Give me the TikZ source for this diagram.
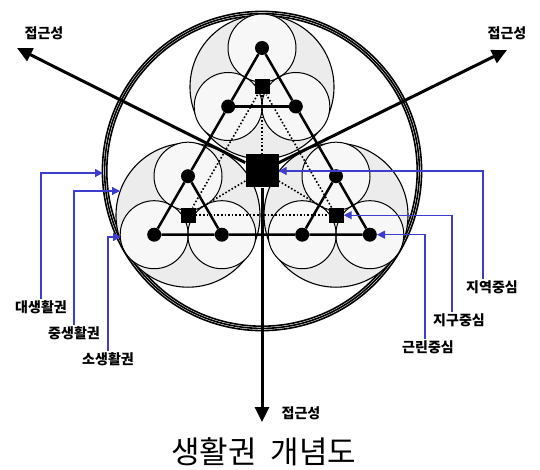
\documentclass[tikz,border=0pt]{standalone}
\usepackage{fontspec}
\newfontfamily\kr{Noto Sans CJK KR}
\usetikzlibrary{arrows.meta, calc}
\definecolor{annblue}{RGB}{60,60,205}
\tikzset{
  ring/.style={line width=1.6pt},
  zone/.style={draw, line width=1.1pt, fill=gray!15},
  subzone/.style={fill=gray!6},
  subedge/.style={line width=1pt},
  cdot/.style={circle, fill=black, inner sep=0pt, minimum size=14pt},
  subhub/.style={rectangle, fill=black, inner sep=0pt, minimum size=15pt},
  mainhub/.style={rectangle, fill=black, inner sep=0pt, minimum size=33pt},
  tri/.style={line width=2.5pt},
  link/.style={dotted, line width=1.6pt},
  arr/.style={line width=3pt, -{Triangle[length=15pt, width=14pt]}},
  annarr/.style={annblue, line width=1.3pt, -{Triangle[length=8pt, width=8pt]}},
  lbl/.style={font=\kr\bfseries\fontsize{14}{16}\selectfont, inner sep=1pt},
  title/.style={font=\kr\fontsize{31}{34}\selectfont}
}
\begin{document}
\begin{tikzpicture}[x=1pt, y=-1pt]
\useasboundingbox (0,0) rectangle (540,470);
\coordinate (C) at (262,171);
\coordinate (T) at (262,87);
\coordinate (L) at (188,215.2);
\coordinate (R) at (336,215.2);
% outer ring
\foreach \r in {159.6,157.4,155.2} \draw[ring] (C) circle[radius=\r pt];
% zones
\foreach \k in {T,L,R} \draw[zone] (\k) circle[radius=72pt];
\foreach \k in {T,L,R} \foreach \px/\py in {0/-39,-33.8/19.5,33.8/19.5}
  \fill[subzone] ($(\k)+(\px,\py)$) circle[radius=34pt];
\foreach \k in {T,L,R} \foreach \px/\py in {0/-39,-33.8/19.5,33.8/19.5}
  \draw[subedge] ($(\k)+(\px,\py)$) circle[radius=34pt];
% centres
\foreach \k in {T,L,R} {
  \node[cdot] (\k1) at ($(\k)+(0,-39)$) {};
  \node[cdot] (\k2) at ($(\k)+(-33.8,19.5)$) {};
  \node[cdot] (\k3) at ($(\k)+(33.8,19.5)$) {};
  \node[subhub] (\k0) at (\k) {};
}
\node[mainhub] (hub) at (C) {};
% dotted links
\draw[link] (T0) -- (L0);
\draw[link] (L0) -- (R0);
\draw[link] (R0) -- (T0);
\draw[link] (hub) -- (T0);
\draw[link] (hub) -- (L0);
\draw[link] (hub) -- (R0);
% triangles
\draw[tri] (T1) -- (T2) -- (L1) -- (L2) -- (L3) -- (R2) -- (R3) -- (R1) -- (T3) -- (T1);
\draw[tri] (T2) -- (T3);
\draw[tri] (L1) -- (L3);
\draw[tri] (R1) -- (R2);
% accessibility
\coordinate (ul) at (17,48);
\coordinate (ur) at (507,50);
\coordinate (dn) at (262,422);
\draw[arr] (hub) -- (ul);
\draw[arr] (hub) -- (ur);
\draw[arr] (hub) -- (dn);
\node[lbl] (accul) at (44,33) {접근성};
\node[lbl] (accur) at (507,33) {접근성};
\node[lbl] (accdn) at (301,413) {접근성};
% annotations
\node[lbl] (big) at (41,307) {대생활권};
\node[lbl] (mid) at (74,333) {중생활권};
\node[lbl] (small) at (108,359) {소생활권};
\node[lbl] (reg) at (492,287) {지역중심};
\node[lbl] (dist) at (459,320) {지구중심};
\node[lbl] (nbr) at (428,347) {근린중심};
\coordinate (ringW) at (103,173);
\coordinate (zoneW) at (120,191);
\coordinate (subW) at (121,237);
\draw[annarr] (big.north) |- (ringW);
\draw[annarr] (mid.north) |- (zoneW);
\draw[annarr] (small.north) |- (subW);
\draw[annarr] ([xshift=-9pt]reg.north) |- (hub.east);
\draw[annarr] ([xshift=-7pt]dist.north) |- (R0.east);
\draw[annarr] ([xshift=-3pt]nbr.north) |- (R3.east);
\node[title] (ttl) at (264,452) {생활권\hspace{0.45em}개념도};
\end{tikzpicture}
\end{document}
